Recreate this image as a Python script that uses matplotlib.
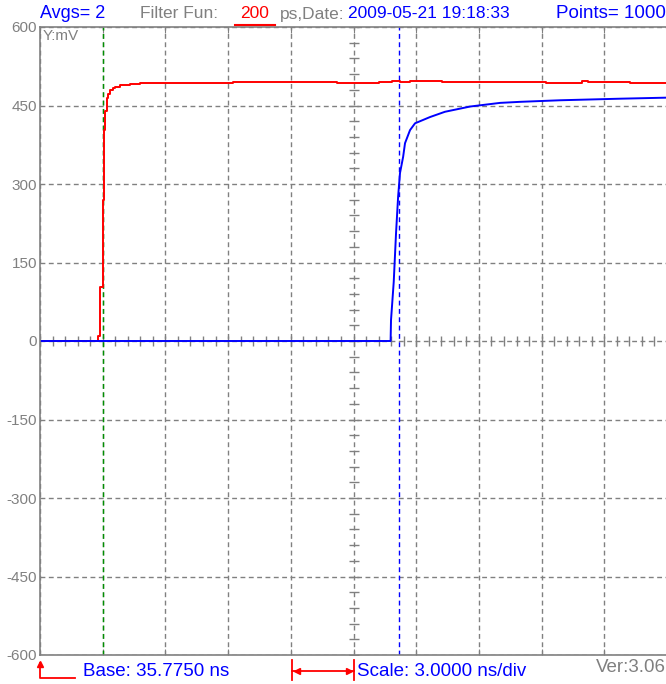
#!/usr/bin/env python3
"""
Scope capture: two step responses (red / blue) on a 10 x 8 division screen.
"""
import numpy as np
import matplotlib.pyplot as plt
from matplotlib.lines import Line2D

plt.rcParams["font.family"] = ["Liberation Sans", "DejaVu Sans"]

# time base (ns) and trace data
base_ns = 35.775
scale_ns = 3.0
n_div_x = 10

red_t = [35.775, 38.50, 38.55, 38.60, 38.65, 38.72, 38.775, 38.80, 38.84, 38.90,
         38.98, 39.05, 39.12, 39.25, 39.36, 39.60, 40.10, 40.56, 42.0, 45.0,
         48.0, 50.0, 52.0, 52.6, 53.0, 53.5, 55.0, 56.5, 58.0, 60.0, 61.7,
         62.0, 64.0, 65.775]
red_v = [0, 0, 10, 10, 103, 103, 270, 270, 403, 440,
         464, 472, 480, 484, 486, 489, 491, 493, 493, 494,
         494, 493, 495, 496, 495, 496, 495, 494, 494, 493, 496,
         494, 493, 493]

blue_t = [35.775, 52.55, 52.57, 52.70, 52.81, 52.91, 53.00, 53.15, 53.24, 53.48,
          53.72, 53.96, 54.44, 55.15, 56.35, 57.79, 58.74, 60.66, 63.53, 65.775]
blue_v = [0, 0, 40, 113, 206, 276, 321, 352, 378, 403,
          416, 420, 428, 438, 448, 455, 457, 460, 463, 465]

green_marker = 38.79
blue_marker = 52.95

y_ticks = [600, 450, 300, 150, 0, -150, -300, -450, -600]

GRAY = "#808080"
BLUE = "#0000ff"
RED = "#ff0000"
GREEN = "#009000"

W, H = 666, 684
fig = plt.figure(figsize=(W / 100, H / 100), dpi=100)
ax = fig.add_axes([40 / W, (H - 655) / H, 627 / W, 628 / H])

x_grid = [base_ns + scale_ns * k for k in range(n_div_x + 1)]
ax.set_xlim(x_grid[0], x_grid[-1])
ax.set_ylim(-600, 600)
ax.set_xticks(x_grid)
ax.set_yticks(y_ticks)
ax.set_xticklabels([])
ax.set_yticklabels([str(v) for v in y_ticks], color=GRAY, fontsize=11)
ax.tick_params(axis="y", length=0, pad=2)
ax.tick_params(axis="x", direction="in", length=4, color=GRAY,
               top=True, bottom=True)
ax.grid(True, color=GRAY, linestyle=(0, (3.5, 2.5)), linewidth=1)

for side in ("left", "bottom", "top"):
    ax.spines[side].set_color(GRAY)
    ax.spines[side].set_linewidth(1.2)
ax.spines["right"].set_visible(False)

# centre cross with small sub-division ticks
x_mid = x_grid[n_div_x // 2]
sub_x = [base_ns + scale_ns * k / 5 for k in range(n_div_x * 5 + 1)]
sub_y = [-600 + 30 * k for k in range(41)]
ax.plot(sub_x, [0] * len(sub_x), ls="none", marker="|", ms=7, mew=1, color=GRAY)
ax.plot([x_mid] * len(sub_y), sub_y, ls="none", marker="_", ms=7, mew=1, color=GRAY)

# cursor lines
ax.axvline(green_marker, color=GREEN, ls=(0, (3.5, 2.5)), lw=1)
ax.axvline(blue_marker, color=BLUE, ls=(0, (3.5, 2.5)), lw=1)

# traces
ax.plot(red_t, red_v, color=RED, lw=1.4, drawstyle="steps-post")
ax.plot(blue_t, blue_v, color=BLUE, lw=1.4)

ax.text(0.004, 0.997, "Y:mV", transform=ax.transAxes, color=GRAY,
        fontsize=11, va="top", ha="left")


def ftext(x, y, s, color, size=12.5, **kw):
    fig.text(x / W, 1 - y / H, s, color=color, fontsize=size, va="center", **kw)


# header line
ftext(40, 14, "Avgs= 2", BLUE, 13)
ftext(140, 14, "Filter Fun:", GRAY)
ftext(240, 14, "200", RED)
fig.add_artist(Line2D([235 / W, 275 / W], [1 - 25 / H, 1 - 25 / H],
                      color=RED, lw=1.5))
ftext(280, 14, "ps,Date:", GRAY)
ftext(348, 14, "2009-05-21 19:18:33", BLUE)
ftext(666, 14, "Points= 1000", BLUE, 13.5, ha="right")

# footer line
ftext(83, 671, "Base: 35.7750 ns", BLUE, 13.5)
ftext(357, 671, "Scale: 3.0000 ns/div", BLUE, 13.5)
ftext(666, 667, "Ver:3.06", GRAY, 13.5, ha="right")

fig.add_artist(Line2D([40 / W, 40 / W, 75 / W],
                      [1 - 663 / H, 1 - 678 / H, 1 - 678 / H], color=RED, lw=1.3))
fig.add_artist(Line2D([40 / W], [1 - 664 / H], marker="^", ms=5, color=RED))
fig.add_artist(Line2D([292 / W, 354 / W], [1 - 671 / H, 1 - 671 / H],
                      color=RED, lw=1.3))
for xb in (292, 354):
    fig.add_artist(Line2D([xb / W, xb / W], [1 - 660 / H, 1 - 680 / H],
                          color=RED, lw=1.3))
fig.add_artist(Line2D([297 / W], [1 - 671 / H], marker="<", ms=5, color=RED))
fig.add_artist(Line2D([349 / W], [1 - 671 / H], marker=">", ms=5, color=RED))

plt.savefig("out.png", dpi=100)
